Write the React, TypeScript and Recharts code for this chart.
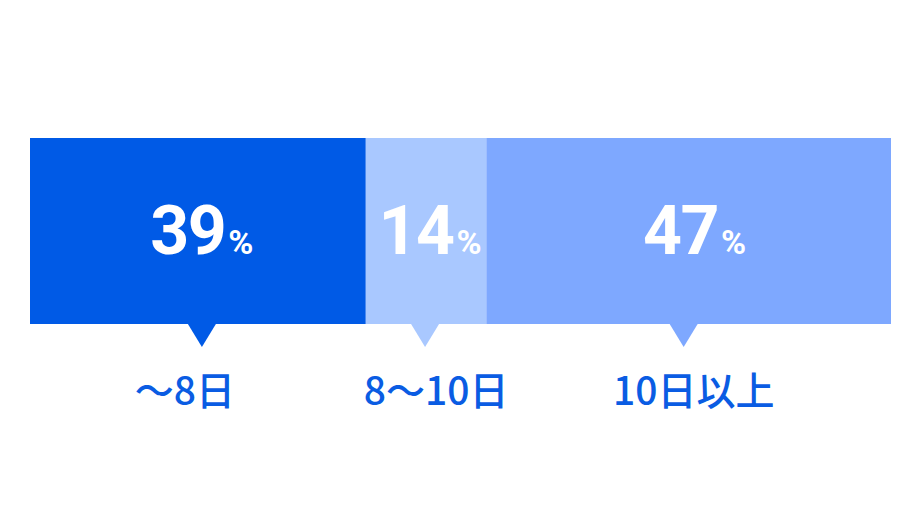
import { BarChart, Bar, XAxis, YAxis } from 'recharts';

const categories = ['〜8日', '8〜10日', '10日以上'];
const shares = [39, 14, 47];
const keys = ['a', 'b', 'c'];
const colors = ['#005ae6', '#a9c8ff', '#7ea8ff'];

// small nudges so pointers / captions sit where the original puts them
const pointerShift = [4, -1, -5];
const captionShift = [-13, 10, 5];
const valueShift = [4, 4, 6];

const row: Record<string, any> = { name: 'share' };
keys.forEach((k, i) => (row[k] = shares[i]));
const data = [row];

const makeShape = (i: number) => (props: any) => {
  const { x, y, width, height } = props;
  const cx = x + width / 2;
  const px = cx + pointerShift[i];
  const bottom = y + height;
  return (
    <g>
      <rect x={x} y={y} width={width} height={height} fill={colors[i]} />
      <polygon points={`${px - 14},${bottom} ${px + 14},${bottom} ${px},${bottom + 23}`} fill={colors[i]} />
      <text
        x={cx + valueShift[i]}
        y={y + 116}
        textAnchor="middle"
        fill="#fff"
        fontFamily="Roboto, sans-serif"
        fontWeight={700}
      >
        <tspan fontSize={68} letterSpacing={-1.5}>{shares[i]}</tspan>
        <tspan fontSize={34} dx={3}>%</tspan>
      </text>
      <text
        x={cx + captionShift[i]}
        y={bottom + 81}
        textAnchor="middle"
        fill="#0a5ce3"
        fontSize={39}
        fontFamily="'Noto Sans CJK JP', sans-serif"
        fontWeight={500}
      >
        {categories[i]}
      </text>
    </g>
  );
};

export default function App() {
  return (
    <div style={{ position: 'absolute', left: 0, top: 0, width: 920, height: 520, background: '#fff' }}>
      <BarChart
        width={920}
        height={520}
        data={data}
        layout="vertical"
        margin={{ top: 138, right: 29, bottom: 196, left: 30 }}
        barCategoryGap={0}
      >
        <XAxis type="number" domain={[0, 100]} hide />
        <YAxis type="category" dataKey="name" hide />
        {keys.map((k, i) => (
          <Bar key={k} dataKey={k} stackId="s" isAnimationActive={false} shape={makeShape(i)} />
        ))}
      </BarChart>
    </div>
  );
}
